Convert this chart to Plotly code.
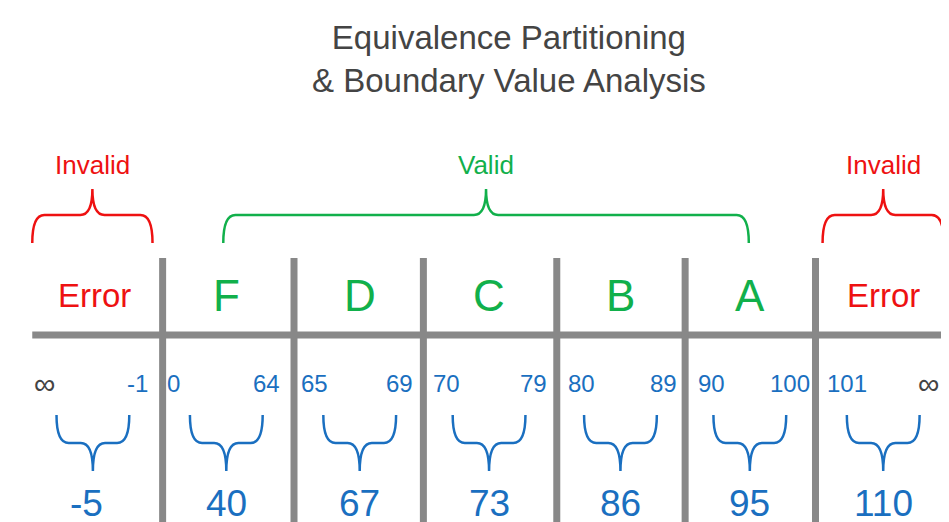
import plotly.graph_objects as go

# --- data ---
grades = ["Error", "F", "D", "C", "B", "A", "Error"]
grade_valid = [False, True, True, True, True, True, False]
range_low = ["∞", "0", "65", "70", "80", "90", "101"]
range_high = ["-1", "64", "69", "79", "89", "100", "∞"]
test_values = ["-5", "40", "67", "73", "86", "95", "110"]
partition_labels = ["Invalid", "Valid", "Invalid"]

RED = "#ee1111"
GREEN = "#11b04b"
BLUE = "#1a6fc0"
GRAY = "#888888"
W, H = 949, 522

# layout of columns (pixel space)
dividers = [147, 277, 405, 537, 664, 793]
centers = [80, 210, 342, 470, 600, 728, 860]
low_x = [30, 158, 297, 428, 561, 690, 824]
high_x = [122, 250, 381, 514, 643, 768, 905]


def brace(x0, x1, yend, ymid, ytip, color, width=2.5):
    xc = (x0 + x1) / 2
    r = 12
    p = (f"M {x0},{yend} Q {x0},{ymid} {x0 + r},{ymid} L {xc - r},{ymid} "
         f"Q {xc},{ymid} {xc},{ytip} Q {xc},{ymid} {xc + r},{ymid} "
         f"L {x1 - r},{ymid} Q {x1},{ymid} {x1},{yend}")
    return dict(type="path", path=p, line=dict(color=color, width=width))


fig = go.Figure()
shapes = []
ann = []

# main grid lines
shapes.append(dict(type="line", x0=18, x1=920, y0=320, y1=320,
                   line=dict(color=GRAY, width=7)))
for x in dividers:
    shapes.append(dict(type="line", x0=x, x1=x, y0=243, y1=510,
                       line=dict(color=GRAY, width=7)))

# title
ann.append(dict(x=490, y=44, text="Equivalence Partitioning<br>& Boundary Value Analysis",
                showarrow=False, font=dict(size=33, color="#444444")))

# partition braces
parts = [(18, 137, RED), (207, 727, GREEN), (800, 920, RED)]
for (x0, x1, c), lab in zip(parts, partition_labels):
    shapes.append(brace(x0, x1, 228, 200, 174, c))
    ann.append(dict(x=(x0 + x1) / 2, y=150, text=lab, showarrow=False,
                    font=dict(size=26, color=c)))

for i, g in enumerate(grades):
    c = GREEN if grade_valid[i] else RED
    ann.append(dict(x=centers[i], y=280, text=g, showarrow=False,
                    font=dict(size=44 if g != "Error" else 33, color=c)))
    lc = "#444444" if range_low[i] == "∞" else BLUE
    hc = "#444444" if range_high[i] == "∞" else BLUE
    ann.append(dict(x=low_x[i], y=368, text=range_low[i], showarrow=False,
                    font=dict(size=24 if lc == BLUE else 30, color=lc)))
    ann.append(dict(x=high_x[i], y=368, text=range_high[i], showarrow=False,
                    font=dict(size=24 if hc == BLUE else 30, color=hc)))
    cx = centers[i] - (2 if i == 0 else 0)
    shapes.append(brace(cx - 36, cx + 36, 400, 428, 456, BLUE, 2.5))
    ann.append(dict(x=centers[i] - (8 if i == 0 else 0), y=488, text=test_values[i],
                    showarrow=False, font=dict(size=37, color=BLUE)))

fig.update_layout(
    width=W, height=H, margin=dict(l=0, r=0, t=0, b=0),
    plot_bgcolor="white", paper_bgcolor="white",
    font=dict(family="Arial, Liberation Sans, sans-serif"),
    xaxis=dict(range=[-6, 933], visible=False, fixedrange=True),
    yaxis=dict(range=[515, -7], visible=False, fixedrange=True),
    shapes=shapes, annotations=ann, showlegend=False,
)
fig.write_html("out.html")
